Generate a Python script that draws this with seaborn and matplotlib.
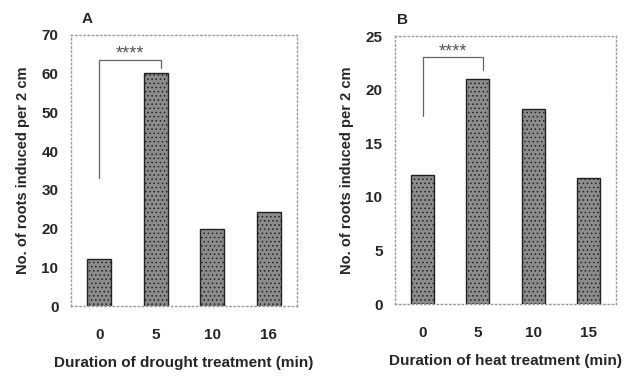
import numpy as np
import pandas as pd
import seaborn as sns
import matplotlib.pyplot as plt

# panel A: drought
drought_min = ["0", "5", "10", "16"]
drought_roots = [12.2, 60.2, 19.9, 24.2]

# panel B: heat
heat_min = ["0", "5", "10", "15"]
heat_roots = [12.0, 21.0, 18.2, 11.8]

sns.set_style("white")
plt.rcParams['font.family'] = ['Liberation Sans', 'DejaVu Sans']
plt.rcParams['hatch.color'] = '#d0d0d0'
plt.rcParams['hatch.linewidth'] = 0.6

fig = plt.figure(figsize=(6.33, 3.77), dpi=100)
axA = fig.add_axes([71 / 633, 1 - 306 / 377, 226 / 633, 271 / 377])
axB = fig.add_axes([395 / 633, 1 - 304 / 377, 221 / 633, 268 / 377])


def panel(ax, cats, vals, ymax, step, xlabel, letter, lx, bracket):
    df = pd.DataFrame({"t": cats, "n": vals})
    sns.barplot(data=df, x="t", y="n", ax=ax, color="#8c8c8c", width=0.42,
                edgecolor="#222222", linewidth=1.0, hatch="....", saturation=1)
    ax.set_ylim(0, ymax)
    ax.set_yticks(np.arange(0, ymax + 0.1, step))
    ax.set_xlim(-0.5, 3.5)
    for s in ax.spines.values():
        s.set_color("#999999")
        s.set_linewidth(1.0)
        s.set_linestyle((0, (1, 2)))
    ax.tick_params(axis="y", length=0, pad=9, labelsize=11)
    ax.tick_params(axis="x", length=0, pad=16, labelsize=11)
    for lab in ax.get_xticklabels() + ax.get_yticklabels():
        lab.set_fontweight("bold")
    ax.set_ylabel("No. of roots induced per 2 cm", fontsize=10.5, fontweight="bold", labelpad=8)
    ax.set_xlabel(xlabel, fontsize=11, fontweight="bold", labelpad=10)
    ax.text(lx, 1.045, letter, transform=ax.transAxes, fontsize=11, fontweight="bold")
    # significance bracket
    y0, ytop, y1, ystar = bracket
    ax.plot([0, 0, 1.1, 1.1], [y0, ytop, ytop, y1], color="#666666", lw=0.9)
    ax.text(0.55, ystar, "****", ha="center", va="bottom", fontsize=13, color="#555555")


panel(axA, drought_min, drought_roots, 70, 10,
      "Duration of drought treatment (min)", "A", 0.045, (33, 63.6, 61.5, 62.8))
panel(axB, heat_min, heat_roots, 25, 5,
      "Duration of heat treatment (min)", "B", 0.01, (17.5, 23.0, 21.8, 22.7))

fig.savefig("out.png", dpi=100)
